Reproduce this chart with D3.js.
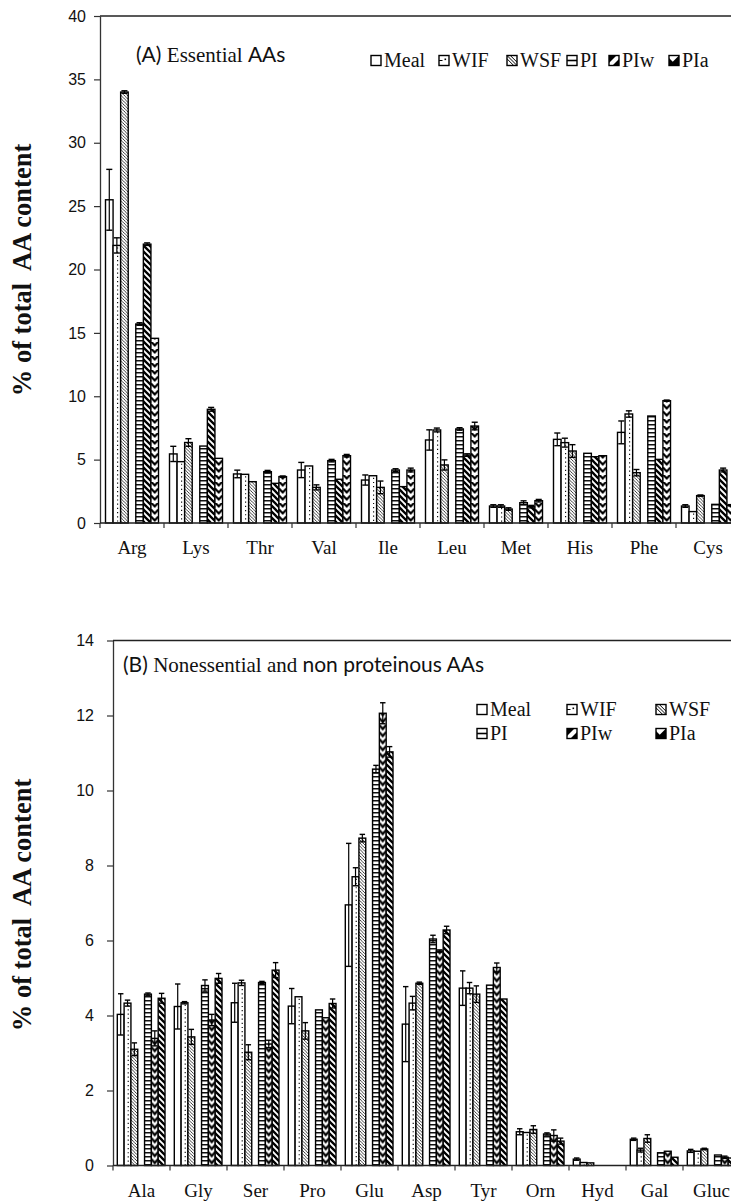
<!DOCTYPE html>
<html><head><meta charset="utf-8">
<script src="https://cdn.jsdelivr.net/npm/d3@7/dist/d3.min.js"></script>
<style>body{margin:0;background:#fff} svg{display:block}</style>
</head><body><svg id="c" width="731" height="1202"></svg>
<script>
// ---------------- DATA ----------------
const series = ["Meal","WIF","WSF","PI","PIw","PIa"];

const catsA = ["Arg","Lys","Thr","Val","Ile","Leu","Met","His","Phe","Cys"];
const ticksA = [0,5,10,15,20,25,30,35,40];
const mealA = [25.5, 5.45, 3.87, 4.18, 3.39, 6.55, 1.34, 6.6, 7.15, 1.34];
const mealAerr = [2.4, 0.6, 0.3, 0.6, 0.4, 0.8, 0.1, 0.5, 0.9, 0.1];
const wifA = [21.9, 4.84, 3.84, 4.5, 3.73, 7.34, 1.34, 6.34, 8.6, 0.9];
const wifAerr = [0.6, 0, 0, 0, 0, 0.15, 0.1, 0.35, 0.25, 0];
const wsfA = [34.0, 6.35, 3.26, 2.81, 2.81, 4.58, 1.1, 5.68, 3.97, 2.16];
const wsfAerr = [0.1, 0.3, 0, 0.2, 0.5, 0.4, 0.1, 0.5, 0.25, 0.05];
const piA = [15.7, 6.07, 4.05, 4.92, 4.18, 7.42, 1.6, 5.5, 8.44, 1.47];
const piAerr = [0.1, 0, 0.1, 0.1, 0.1, 0.1, 0.15, 0, 0, 0];
const piwA = [22.0, 8.97, 3.13, 3.45, 2.87, 5.36, 1.29, 5.23, 5.02, 4.18];
const piwAerr = [0.1, 0.15, 0, 0, 0, 0.1, 0.1, 0, 0, 0.15];
const piaA = [14.57, 5.1, 3.66, 5.31, 4.18, 7.65, 1.76, 5.31, 9.65, 1.4];
const piaAerr = [0, 0, 0.05, 0.1, 0.15, 0.3, 0.1, 0, 0.05, 0.05];

const catsB = ["Ala","Gly","Ser","Pro","Glu","Asp","Tyr","Orn","Hyd","Gal","Gluc"];
const ticksB = [0,2,4,6,8,10,12,14];
const mealB = [4.03, 4.24, 4.34, 4.25, 6.95, 3.77, 4.73, 0.9, 0.17, 0.7, 0.39];
const mealBerr = [0.55, 0.6, 0.52, 0.47, 1.64, 1.0, 0.46, 0.08, 0.03, 0.03, 0.04];
const wifB = [4.33, 4.34, 4.87, 4.5, 7.7, 4.33, 4.73, 0.88, 0.08, 0.41, 0.38];
const wifBerr = [0.08, 0.03, 0.07, 0, 0.24, 0.18, 0.15, 0, 0, 0.05, 0];
const wsfB = [3.1, 3.43, 3.02, 3.59, 8.73, 4.86, 4.57, 0.96, 0.07, 0.72, 0.44];
const wsfBerr = [0.17, 0.2, 0.2, 0.22, 0.1, 0.03, 0.22, 0.1, 0, 0.1, 0.02];
const piB = [4.57, 4.8, 4.88, 4.15, 10.57, 6.04, 4.81, 0.84, 0, 0.34, 0.28];
const piBerr = [0.03, 0.15, 0.03, 0, 0.1, 0.1, 0, 0.03, 0, 0, 0];
const piwB = [3.39, 3.88, 3.24, 3.94, 12.06, 5.72, 5.28, 0.8, 0, 0.38, 0.22];
const piwBerr = [0.2, 0.15, 0.1, 0, 0.28, 0.03, 0.12, 0.15, 0, 0, 0.03];
const piaB = [4.46, 4.99, 5.21, 4.32, 11.03, 6.28, 4.44, 0.65, 0, 0.22, 0.2];
const piaBerr = [0.13, 0.13, 0.2, 0.12, 0.14, 0.1, 0, 0.08, 0, 0, 0];

// ---------------- DRAWING ----------------
const svg = d3.select("#c");
const defs = svg.append("defs");
const SERIF = "'Liberation Serif','Times New Roman',serif";
const SANS = "'Liberation Sans',Arial,sans-serif";
const CAL = "Lato,'Open Sans',sans-serif";

function mkPattern(id, w, h, draw) {
  const p = defs.append("pattern").attr("id", id).attr("patternUnits", "userSpaceOnUse")
    .attr("width", w).attr("height", h);
  p.append("rect").attr("width", w).attr("height", h).attr("fill", "#fff");
  draw(p);
  return p;
}
mkPattern("hatch", 3.2, 3.2, p => p.append("path")
  .attr("d", "M-1,-1 L4.2,4.2 M-1,2.2 L1,4.2 M2.2,-1 L4.2,1")
  .attr("stroke", "#111").attr("stroke-width", 0.8));
mkPattern("hstripe", 4, 4, p => p.append("rect").attr("y", 0).attr("width", 4).attr("height", 1.5).attr("fill", "#111"));
mkPattern("diag", 6, 6, p => p.append("path")
  .attr("d", "M-2,-2 L8,8 M-2,4 L2,8 M4,-2 L8,2")
  .attr("stroke", "#000").attr("stroke-width", 2.3));

let chevCount = 0;
function chevronFill(x, yBase, w) {
  const id = "chev" + (chevCount++);
  const h = 7;
  const p = defs.append("pattern").attr("id", id).attr("patternUnits", "userSpaceOnUse")
    .attr("x", x).attr("y", yBase).attr("width", w).attr("height", h);
  p.append("rect").attr("width", w).attr("height", h).attr("fill", "#fff");
  p.append("path").attr("d", `M0,0.5 L${w/2},4.5 L${w},0.5`).attr("fill", "none")
    .attr("stroke", "#000").attr("stroke-width", 2.2);
  return `url(#${id})`;
}

function legendIcon(g, type, x, y, s) {
  const gg = g.append("g").attr("transform", `translate(${x},${y})`);
  gg.append("rect").attr("width", s).attr("height", s).attr("fill", "#fff");
  if (type === "dot") {
    gg.append("rect").attr("x", s*0.55).attr("y", s*0.3).attr("width", 1.6).attr("height", 1.6).attr("fill", "#000");
    gg.append("line").attr("x1", 0).attr("x2", s*0.35).attr("y1", s/2).attr("y2", s/2).attr("stroke","#000").attr("stroke-width",1);
  } else if (type === "hatch") {
    gg.append("path").attr("d", `M0,${s*0.33} L${s*0.67},${s} M0,0 L${s},${s} M${s*0.33},0 L${s},${s*0.67}`).attr("stroke", "#000").attr("stroke-width", 1);
  } else if (type === "hstripe") {
    gg.append("line").attr("x1", 0).attr("x2", s).attr("y1", s/2).attr("y2", s/2).attr("stroke","#000").attr("stroke-width",1.6);
  } else if (type === "iconW") {
    gg.append("path").attr("d", `M0,0 H${s*0.75} L0,${s*0.75} Z`).attr("fill", "#000");
    gg.append("path").attr("d", `M${s},${s*0.35} V${s} H${s*0.35} Z`).attr("fill", "#000");
  } else if (type === "iconA") {
    gg.append("path").attr("d", `M0,${s} V${s*0.25} L${s*0.75},${s} Z`).attr("fill", "#000");
    gg.append("path").attr("d", `M0,${s} L${s},0 V${s} Z`).attr("fill", "#000");
  }
  gg.append("rect").attr("width", s).attr("height", s).attr("fill", "none").attr("stroke", "#000").attr("stroke-width", 1.4);
}

function panel(cfg) {
  const g = svg.append("g");
  const x = d3.scaleBand().domain(cfg.cats).range(cfg.xRange).paddingInner(0).paddingOuter(0);
  const y = d3.scaleLinear().domain(cfg.yDomain).range(cfg.yRange);
  const slot = d3.scaleBand().domain([0,1,2,3,4,5,6]).range(cfg.inner).paddingInner(0);
  const bw = slot.bandwidth();
  const slotOf = [0,1,2,4,5,6];

  // y axis
  const ya = g.append("g").attr("transform", `translate(${cfg.xRange[0]},0)`)
    .call(d3.axisLeft(y).tickValues(cfg.ticks).tickSize(6).tickPadding(cfg.tickPad).tickSizeOuter(0));
  ya.select(".domain").attr("stroke", "#333").attr("stroke-width", 1.3);
  ya.selectAll(".tick line").attr("stroke", "#333").attr("stroke-width", 1.2);
  ya.selectAll("text").attr("font-family", SANS).attr("font-size", 16).attr("fill", "#111");

  // top frame line
  g.append("line").attr("x1", cfg.xRange[0]).attr("x2", 745)
    .attr("y1", y(cfg.yDomain[1])).attr("y2", y(cfg.yDomain[1]))
    .attr("stroke", "#222").attr("stroke-width", 1.5);

  // bars
  cfg.vals.forEach((arr, si) => {
    const type = cfg.types[si];
    arr.forEach((v, ci) => {
      if (v <= 0) return;
      const bx = x(cfg.cats[ci]) + slot(slotOf[si]);
      const by = y(v);
      const bh = y(0) - by;
      let fill = "#fff";
      if (type === "hatch") fill = "url(#hatch)";
      else if (type === "hstripe") fill = "url(#hstripe)";
      else if (type === "diag") fill = "url(#diag)";
      else if (type === "chev") fill = chevronFill(bx, y(0), bw);
      g.append("rect").attr("x", bx).attr("y", by).attr("width", bw).attr("height", bh)
        .attr("fill", fill).attr("stroke", "#000").attr("stroke-width", 1.4);
      if (type === "dot") {
        g.append("line").attr("x1", bx + bw*0.6).attr("x2", bx + bw*0.6)
          .attr("y1", by + 2).attr("y2", y(0))
          .attr("stroke", "#000").attr("stroke-width", 1.1).attr("stroke-dasharray", "1.2,3");
      }
      const e = cfg.errs[si][ci];
      if (e > 0) {
        const cx = bx + bw/2, cw = bw*0.8;
        const y1 = y(v + e), y2 = y(Math.max(0, v - e));
        g.append("line").attr("x1", cx).attr("x2", cx).attr("y1", y1).attr("y2", y2)
          .attr("stroke", "#000").attr("stroke-width", 1.2);
        [y1, y2].forEach(yy => g.append("line").attr("x1", cx - cw/2).attr("x2", cx + cw/2)
          .attr("y1", yy).attr("y2", yy).attr("stroke", "#000").attr("stroke-width", 1.4));
      }
    });
  });

  // x axis baseline + boundary ticks
  g.append("line").attr("x1", cfg.xRange[0]).attr("x2", 745).attr("y1", y(0)).attr("y2", y(0))
    .attr("stroke", "#222").attr("stroke-width", 1.5);
  const bounds = cfg.cats.map(c => x(c)).concat([cfg.xRange[1]]);
  g.selectAll(null).data(bounds).enter().append("line")
    .attr("x1", d => d).attr("x2", d => d).attr("y1", y(0)).attr("y2", y(0) + 5)
    .attr("stroke", "#333").attr("stroke-width", 1.2);
  g.selectAll(null).data(cfg.cats).enter().append("text")
    .attr("x", d => x(d) + x.bandwidth()/2).attr("y", cfg.catY)
    .attr("text-anchor", "middle").attr("font-family", SERIF).attr("font-size", 19).attr("fill", "#111")
    .text(d => d);

  // y title
  g.append("text").attr("transform", `translate(${cfg.titleX},${cfg.titleY}) rotate(-90)`)
    .attr("text-anchor", "middle").attr("font-family", SERIF).attr("font-weight", "bold")
    .attr("font-size", 26.5).attr("fill", "#111").attr("xml:space", "preserve")
    .style("white-space", "pre").text("% of total  AA content");

  // panel title
  const t = g.append("text").attr("x", cfg.head.x).attr("y", cfg.head.y).attr("font-size", 21).attr("fill", "#111");
  cfg.head.parts.forEach(p => t.append("tspan").attr("font-family", p[1] === "s" ? CAL : SERIF).text(p[0]));

  // legend
  cfg.legend.forEach((l, i) => {
    legendIcon(g, cfg.iconTypes[i], l[0], l[1] - 11.5, 10);
    g.append("text").attr("x", l[0] + 13).attr("y", l[1]).attr("font-family", SERIF)
      .attr("font-size", 20).attr("fill", "#111").text(series[i]);
  });
}

panel({
  cats: catsA, ticks: ticksA, xRange: [100, 740], yDomain: [0, 40], yRange: [523, 16], inner: [5.5, 58.5],
  vals: [mealA, wifA, wsfA, piA, piwA, piaA],
  errs: [mealAerr, wifAerr, wsfAerr, piAerr, piwAerr, piaAerr],
  types: ["open", "dot", "hatch", "hstripe", "diag", "chev"],
  iconTypes: ["open", "dot", "hatch", "hstripe", "iconW", "iconA"],
  tickPad: 8, catY: 554, titleX: 31, titleY: 270,
  head: {x: 136, y: 62, parts: [["(A) ", "s"], ["Essential ", "r"], ["AAs", "s"]]},
  legend: [[371, 67], [439, 67], [507, 67], [567, 67], [609, 67], [669, 67]]
});

panel({
  cats: catsB, ticks: ticksB, xRange: [113, 740], yDomain: [0, 14], yRange: [1165.5, 640.5], inner: [4.3, 52],
  vals: [mealB, wifB, wsfB, piB, piwB, piaB],
  errs: [mealBerr, wifBerr, wsfBerr, piBerr, piwBerr, piaBerr],
  types: ["open", "dot", "hatch", "hstripe", "chev", "diag"],
  iconTypes: ["open", "dot", "hatch", "hstripe", "iconW", "iconA"],
  tickPad: 13, catY: 1197, titleX: 31, titleY: 905,
  head: {x: 123, y: 672, parts: [["(B) ", "s"], ["Nonessential and ", "r"], ["non proteinous AAs", "s"]]},
  legend: [[477, 716], [567, 716], [656, 716], [477, 740], [567, 740], [656, 740]]
});
</script></body></html>
